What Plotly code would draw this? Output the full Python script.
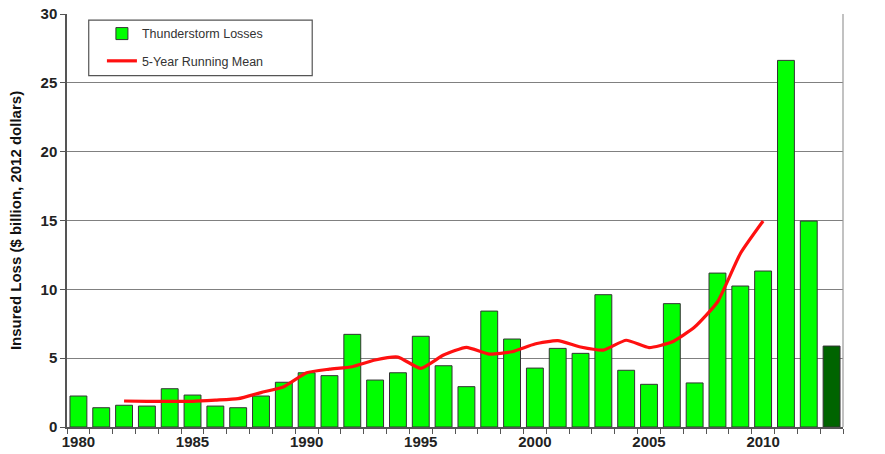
import plotly.graph_objects as go

years = list(range(1980, 2014))
losses = [2.25, 1.4, 1.58, 1.52, 2.78, 2.32, 1.52, 1.4, 2.25, 3.25,
          3.94, 3.73, 6.73, 3.41, 3.94, 6.59, 4.45, 2.93, 8.42, 6.39,
          4.28, 5.71, 5.35, 9.61, 4.12, 3.10, 8.96, 3.20, 11.18, 10.24,
          11.33, 26.63, 14.96, 5.88]
bar_colors = ["#00FF00"] * 33 + ["#006400"]

mean_years = list(range(1982, 2011))
running_mean = [1.89, 1.86, 1.86, 1.86, 1.95, 2.06, 2.5, 2.93, 3.94, 4.2,
                4.38, 4.87, 5.08, 4.26, 5.23, 5.79, 5.3, 5.47, 6.03, 6.27,
                5.81, 5.59, 6.3, 5.77, 6.17, 7.26, 9.08, 12.59, 14.96]

y_ticks = [0, 5, 10, 15, 20, 25, 30]
x_ticks = [1980, 1985, 1990, 1995, 2000, 2005, 2010]

FONT = "Liberation Sans, Arial, sans-serif"

fig = go.Figure()
fig.add_trace(go.Bar(
    x=years, y=losses, name="Thunderstorm Losses",
    marker=dict(color=bar_colors, line=dict(color="#333333", width=1)),
    width=0.74, legendgroup="a",
))
fig.add_trace(go.Scatter(
    x=mean_years, y=running_mean, name="5-Year Running Mean",
    mode="lines", line=dict(color="#FF1010", width=3.2, shape="spline", smoothing=0.5),
    legendgroup="b",
))

fig.update_layout(
    width=885, height=454,
    margin=dict(l=67, r=42, t=14, b=27, autoexpand=False),
    paper_bgcolor="white", plot_bgcolor="white",
    font=dict(family=FONT, color="#222222"),
    showlegend=True,
    legend=dict(
        x=0.045, y=0.988, xanchor="left", yanchor="top",
        bgcolor="rgba(0,0,0,0)", borderwidth=0,
        font=dict(size=12.5, color="#333333"),
        tracegroupgap=8, traceorder="grouped",
    ),
    shapes=[dict(type="rect", xref="paper", yref="paper",
                 x0=0.028, x1=0.316, y0=0.851, y1=0.985,
                 line=dict(color="#555555", width=1.2), fillcolor="white", layer="below")],
)

fig.update_xaxes(
    range=[1979.5, 2013.5], automargin=False,
    tickmode="array", tickvals=x_ticks,
    ticks="", showgrid=False,
    tickfont=dict(size=15, family=FONT, color="#222222", weight="bold"),
    showline=True, linecolor="#555555", linewidth=1.5, mirror=False,
    minor=dict(tickmode="linear", tick0=1979.5, dtick=1, ticks="outside",
               ticklen=5, tickcolor="#555555", tickwidth=1.2, showgrid=False),
    zeroline=False,
)
fig.update_yaxes(
    range=[0, 30], automargin=False, tickmode="array", tickvals=y_ticks,
    ticks="outside", ticklen=5, tickcolor="#555555", tickwidth=1.2,
    showgrid=True, gridcolor="#808080", gridwidth=1.3,
    showline=True, linecolor="#555555", linewidth=1.5, mirror=False,
    tickfont=dict(size=15, family=FONT, color="#222222", weight="bold"),
    title=dict(text="Insured Loss ($ billion, 2012 dollars)",
               font=dict(size=15, family=FONT, color="#111111", weight="bold")),
    zeroline=False,
)
# right border of plot area
fig.add_shape(type="line", xref="paper", yref="paper", x0=1, x1=1, y0=0, y1=1,
              line=dict(color="#999999", width=1.2))

fig.write_html("out.html", config={"displayModeBar": False},
               post_script="document.body.style.margin='0';document.body.style.overflow='hidden';")
